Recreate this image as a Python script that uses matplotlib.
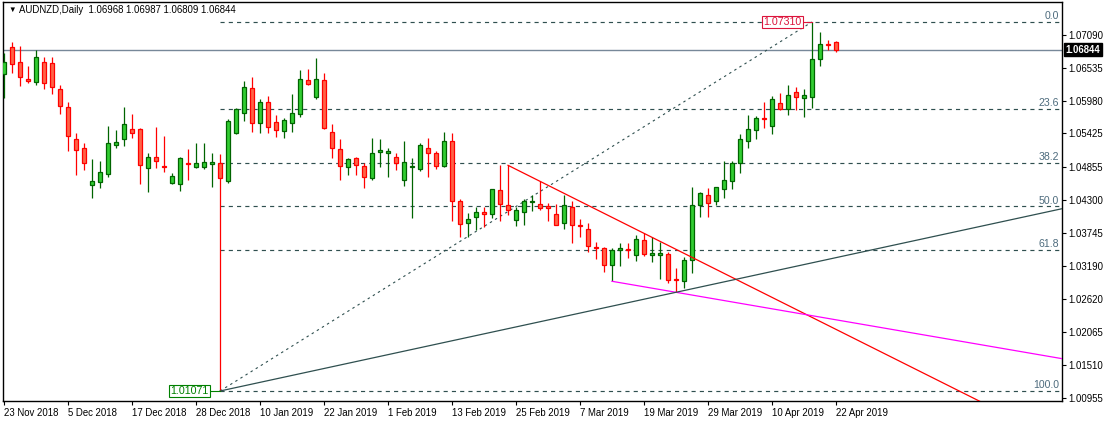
import numpy as np
import matplotlib
matplotlib.use("Agg")
import matplotlib.pyplot as plt

# AUDNZD daily candles (bar 0 = 23 Nov 2018)
opens = [1.06431, 1.06892, 1.06629, 1.06341, 1.06291, 1.06629, 1.06612, 1.06172, 1.05868, 1.05327,
         1.05175, 1.04549, 1.04600, 1.04735, 1.05225, 1.05327, 1.05496, 1.05496, 1.04836, 1.05022,
         1.04875, 1.04593, 1.04566, 1.04921, 1.04853, 1.04853, 1.04904, 1.04921, 1.04627, 1.05438,
         1.05766, 1.06189, 1.05597, 1.05952, 1.05614, 1.05462, 1.05597, 1.05749, 1.06324, 1.06037,
         1.06324, 1.05445, 1.05158, 1.04853, 1.05005, 1.04875, 1.04667, 1.05107, 1.05090, 1.05022,
         1.04634, 1.04863, 1.04830, 1.05175, 1.05090, 1.04870, 1.05293, 1.04278, 1.03906, 1.04008,
         1.04092, 1.04059, 1.04464, 1.04211, 1.03957, 1.04092, 1.04262, 1.04228, 1.04194, 1.04059,
         1.03906, 1.04177, 1.03873, 1.03805, 1.03501, 1.03484, 1.03196, 1.03450, 1.03467, 1.03365,
         1.03619, 1.03365, 1.03365, 1.03382, 1.02960, 1.02926, 1.03281, 1.04211, 1.04380, 1.04278,
         1.04481, 1.04617, 1.04921, 1.05293, 1.05479, 1.05687, 1.05547, 1.05935, 1.05834, 1.06121,
         1.06020, 1.06047, 1.06679, 1.06938, 1.06968]
highs = [1.06781, 1.06977, 1.06904, 1.06566, 1.06837, 1.06713, 1.06713, 1.06245, 1.05957, 1.05433,
         1.05259, 1.04989, 1.04960, 1.05552, 1.05484, 1.05873, 1.05749, 1.05513, 1.05090, 1.05540,
         1.05382, 1.04762, 1.05022, 1.05168, 1.05259, 1.05259, 1.05090, 1.05073, 1.05670, 1.05851,
         1.06312, 1.06375, 1.06003, 1.06054, 1.05733, 1.05682, 1.06093, 1.06493, 1.06510, 1.06696,
         1.06443, 1.05580, 1.05327, 1.05010, 1.05020, 1.04921, 1.05344, 1.05327, 1.05185, 1.05100,
         1.05298, 1.05005, 1.05269, 1.05354, 1.05129, 1.05445, 1.05433, 1.04312, 1.04076, 1.04177,
         1.04177, 1.04490, 1.04887, 1.04887, 1.04177, 1.04312, 1.04380, 1.04617, 1.04245, 1.04228,
         1.04380, 1.04278, 1.03984, 1.03906, 1.03595, 1.03512, 1.03484, 1.03568, 1.03568, 1.03703,
         1.03737, 1.03670, 1.03595, 1.03416, 1.03146, 1.03342, 1.04515, 1.04431, 1.04498, 1.04525,
         1.04955, 1.04955, 1.05411, 1.05733, 1.05716, 1.05957, 1.06054, 1.06104, 1.06240, 1.06206,
         1.06172, 1.07310, 1.07136, 1.07001, 1.06987]
lows = [1.06020, 1.06453, 1.06233, 1.06274, 1.06245, 1.06172, 1.06088, 1.05749, 1.05134, 1.04728,
        1.04808, 1.04329, 1.04498, 1.04684, 1.05175, 1.05219, 1.05344, 1.04566, 1.04431, 1.04836,
        1.04779, 1.04566, 1.04448, 1.04634, 1.04836, 1.04819, 1.04515, 1.01071, 1.04583, 1.05411,
        1.05631, 1.05455, 1.05438, 1.05428, 1.05371, 1.05344, 1.05455, 1.05699, 1.06240, 1.06013,
        1.05496, 1.05016, 1.04638, 1.04723, 1.04723, 1.04498, 1.04638, 1.04863, 1.04694, 1.04808,
        1.04542, 1.03991, 1.04796, 1.04694, 1.04819, 1.04863, 1.03950, 1.03680, 1.03680, 1.03798,
        1.03849, 1.03991, 1.03950, 1.04047, 1.03866, 1.03883, 1.04109, 1.04126, 1.03940, 1.03873,
        1.03805, 1.03578, 1.03680, 1.03416, 1.03308, 1.03088, 1.02926, 1.03189, 1.03325, 1.03274,
        1.03348, 1.03257, 1.02970, 1.02892, 1.02740, 1.02808, 1.03061, 1.04008, 1.04008, 1.04211,
        1.04329, 1.04481, 1.04752, 1.05175, 1.05327, 1.05513, 1.05411, 1.05817, 1.05733, 1.05817,
        1.05699, 1.05856, 1.06561, 1.06832, 1.06809]
closes = [1.06629, 1.06595, 1.06375, 1.06307, 1.06713, 1.06274, 1.06206, 1.05895, 1.05377, 1.05141,
          1.04931, 1.04617, 1.04769, 1.05259, 1.05276, 1.05580, 1.05428, 1.04887, 1.05022, 1.04955,
          1.04858, 1.04701, 1.05005, 1.04904, 1.04921, 1.04938, 1.04938, 1.04667, 1.05631, 1.05834,
          1.06206, 1.05597, 1.05952, 1.05540, 1.05479, 1.05648, 1.05766, 1.06341, 1.06257, 1.06341,
          1.05513, 1.05175, 1.04870, 1.04989, 1.04887, 1.04694, 1.05090, 1.05146, 1.05129, 1.04931,
          1.04938, 1.04875, 1.05225, 1.05090, 1.04870, 1.05293, 1.04278, 1.03890, 1.03974, 1.04092,
          1.04059, 1.04481, 1.04228, 1.04126, 1.04126, 1.04278, 1.04278, 1.04160, 1.04160, 1.03873,
          1.04211, 1.03873, 1.03856, 1.03518, 1.03484, 1.03196, 1.03450, 1.03484, 1.03450, 1.03636,
          1.03382, 1.03399, 1.03399, 1.02943, 1.02943, 1.03281, 1.04211, 1.04414, 1.04245, 1.04515,
          1.04634, 1.04921, 1.05327, 1.05496, 1.05682, 1.05665, 1.06003, 1.05834, 1.06071, 1.06037,
          1.06071, 1.06679, 1.06933, 1.06921, 1.06844]

date_labels = ["23 Nov 2018", "5 Dec 2018", "17 Dec 2018", "28 Dec 2018", "10 Jan 2019",
               "22 Jan 2019", "1 Feb 2019", "13 Feb 2019", "25 Feb 2019", "7 Mar 2019",
               "19 Mar 2019", "29 Mar 2019", "10 Apr 2019", "22 Apr 2019"]
price_ticks = [1.07090, 1.06535, 1.05980, 1.05425, 1.04855, 1.04300,
               1.03745, 1.03190, 1.02620, 1.02065, 1.01510, 1.00955]
fib_ratios = [0.0, 23.6, 38.2, 50.0, 61.8, 100.0]
fib_low_bar, fib_high_bar = 27, 101
red_line_bars = (63, 80)      # through highs
magenta_line_bars = (76, 84)  # through lows
black_line_bars = (27, 84)    # through lows
last_price = 1.06844

plt.rcParams['font.family'] = ['Liberation Sans', 'DejaVu Sans']
fs = 6.7

fig = plt.figure(figsize=(11.07, 4.22), dpi=100)
ax = fig.add_axes([2.5 / 1107, 21 / 422, 1059 / 1107, 399 / 422])
xmin, xmax = -0.2, 132.2
ax.set_xlim(xmin, xmax)
ax.set_ylim(1.00902, 1.07648)

o = np.array(opens); h = np.array(highs); l = np.array(lows); c = np.array(closes)
idx = np.arange(len(o))
up = c >= o
bull_fill, bull_edge = '#32cd32', '#006400'
bear_fill, bear_edge = '#ff6347', '#ff0000'

# wicks
ax.vlines(idx[up], l[up], h[up], color=bull_edge, lw=0.9, zorder=3)
ax.vlines(idx[~up], l[~up], h[~up], color=bear_edge, lw=0.9, zorder=3)
# bodies
bot = np.minimum(o, c)
hgt = np.maximum(np.abs(c - o), 0.00003)
ax.bar(idx[up], hgt[up], bottom=bot[up], width=0.58, color=bull_fill,
       edgecolor=bull_edge, linewidth=0.9, zorder=4)
ax.bar(idx[~up], hgt[~up], bottom=bot[~up], width=0.58, color=bear_fill,
       edgecolor=bear_edge, linewidth=0.9, zorder=4)

# fibonacci retracement
f_hi, f_lo = h[fib_high_bar], l[fib_low_bar]
slate = '#2f4f4f'
for r in fib_ratios:
    lev = f_hi - (f_hi - f_lo) * r / 100
    ax.plot([fib_low_bar, xmax], [lev, lev], color=slate, lw=0.85,
            linestyle=(0, (3.5, 3.5)), zorder=2)
    ax.text(xmax - 0.3, lev + 0.00015, f"{r:.1f}", color='#4d6b7d', fontsize=fs + 0.9,
            ha='right', va='bottom', zorder=5)
ax.plot([fib_low_bar, fib_high_bar], [f_lo, f_hi], color=slate, lw=0.8,
        linestyle=(0, (2.2, 3.2)), zorder=2)

# trend lines, extended to the right edge
def ray(bars, vals, color, lw=0.9):
    x0, x1 = bars
    y0, y1 = vals[x0], vals[x1]
    slope = (y1 - y0) / (x1 - x0)
    ax.plot([x0, xmax], [y0, y0 + slope * (xmax - x0)], color=color, lw=lw, zorder=5)

ray(red_line_bars, h, '#ff0000')
ray(magenta_line_bars, l, '#ff00ff')
ray(black_line_bars, l, slate)

# price labels at the fib anchors
ax.plot([fib_high_bar - 1.2, fib_high_bar], [f_hi, f_hi], color='#dc143c', lw=0.8, zorder=5)
ax.text(fib_high_bar - 1.3, f_hi, f"{f_hi:.5f}", color='#dc143c', fontsize=fs + 1.0,
        ha='right', va='center', zorder=6,
        bbox=dict(boxstyle='square,pad=0.12', fc='white', ec='#dc143c', lw=0.8))
ax.plot([fib_low_bar - 1.3, fib_low_bar], [f_lo, f_lo], color='#008000', lw=0.8, zorder=5)
ax.text(fib_low_bar - 1.4, f_lo, f"{f_lo:.5f}", color='#008000', fontsize=fs + 1.0,
        ha='right', va='center', zorder=6,
        bbox=dict(boxstyle='square,pad=0.12', fc='white', ec='#008000', lw=0.8))

# last price line and label
ax.axhline(last_price, color='#778899', lw=1.0, zorder=1)
ax.annotate(f"{last_price:.5f}", xy=(1.0, last_price), xycoords=('axes fraction', 'data'),
            xytext=(3, 0), textcoords='offset points', color='white', fontsize=fs + 0.2,
            fontweight='bold', ha='left', va='center',
            bbox=dict(boxstyle='square,pad=0.15', fc='black', ec='black'), annotation_clip=False)

# axes
ax.yaxis.tick_right()
ax.set_yticks(price_ticks)
ax.set_yticklabels([f"{v:.5f}" for v in price_ticks], fontsize=fs + 0.2)
ax.tick_params(axis='y', length=3, width=0.8, pad=2)
ax.set_xticks(np.arange(len(date_labels)) * 8)
ax.set_xticklabels(date_labels, fontsize=fs + 0.2, ha='left')
ax.tick_params(axis='x', length=3, width=0.8, pad=2)
for s in ax.spines.values():
    s.set_linewidth(1.0)

fig.text(8 / 1107, 1 - 10 / 422, "\u25bc", fontsize=5.5, va='center', ha='left')
fig.text(19 / 1107, 1 - 10 / 422,
         f"AUDNZD,Daily  {opens[-1]:.5f} {highs[-1]:.5f} {lows[-1]:.5f} {closes[-1]:.5f}",
         fontsize=fs + 0.2, va='center', ha='left')

fig.savefig("out.png", dpi=100)
